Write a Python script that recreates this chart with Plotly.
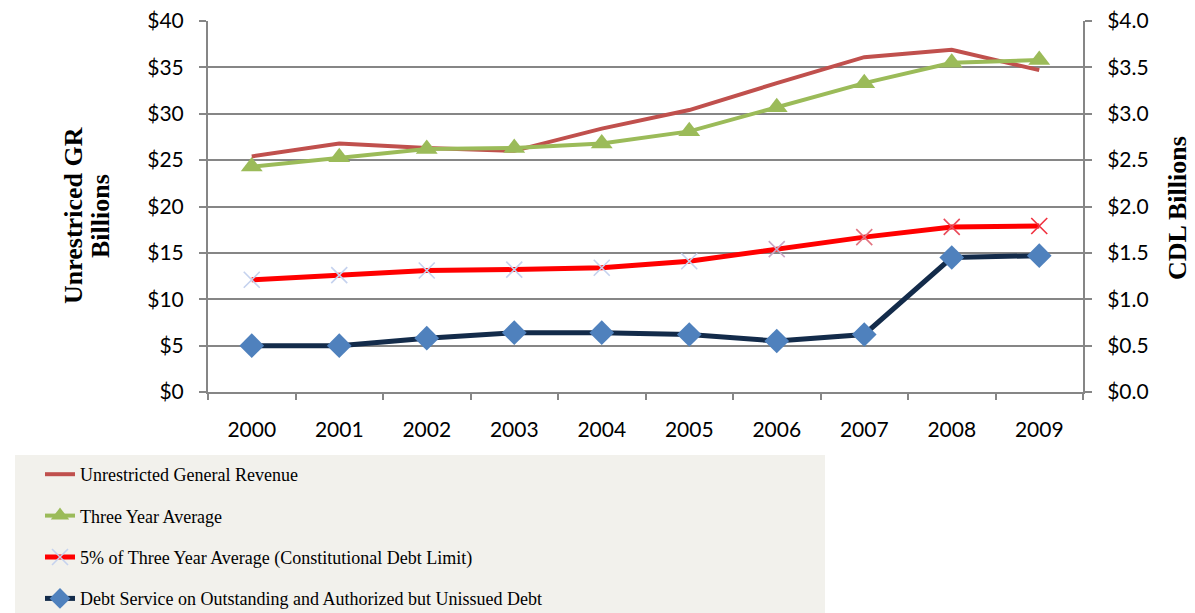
import plotly.graph_objects as go

years = ['2000', '2001', '2002', '2003', '2004', '2005', '2006', '2007', '2008', '2009']

# $ billions, left axis
general_revenue = [25.4, 26.8, 26.3, 26.0, 28.4, 30.4, 33.3, 36.1, 36.9, 34.7]
three_year_avg = [24.3, 25.3, 26.2, 26.3, 26.8, 28.1, 30.7, 33.3, 35.5, 35.8]

# $ billions, right axis
debt_limit = [1.21, 1.26, 1.31, 1.32, 1.34, 1.41, 1.54, 1.67, 1.78, 1.79]
debt_service = [0.50, 0.50, 0.58, 0.64, 0.64, 0.62, 0.55, 0.62, 1.45, 1.47]

limit_marker_colors = ['#c5d2ee', '#c5d2ee', '#c5d2ee', '#c5d2ee', '#c5d2ee',
                       '#c5d2ee', '#c9a7c6', '#e2727f', '#ea4a5a', '#f0303e']

GRID = '#868686'
TICK_FONT = dict(family='Lato', size=21, color='#000000')
SERIF = 'Liberation Serif'

fig = go.Figure()
fig.add_trace(go.Scatter(
    x=years, y=general_revenue, name='Unrestricted General Revenue',
    mode='lines', line=dict(color='#C0504D', width=4), legendgroup='a'))
fig.add_trace(go.Scatter(
    x=years, y=three_year_avg, name='Three Year Average',
    mode='lines+markers', line=dict(color='#9BBB59', width=4),
    marker=dict(symbol='triangle-up', size=19, color='#9BBB59'), legendgroup='b'))
fig.add_trace(go.Scatter(
    x=years, y=debt_limit, name='5% of Three Year Average (Constitutional Debt Limit)',
    yaxis='y2', mode='lines+markers', line=dict(color='#FF0000', width=5),
    marker=dict(symbol='x-thin-open', size=16, color=limit_marker_colors,
                line=dict(width=1.6, color=limit_marker_colors)), legendgroup='c'))
fig.add_trace(go.Scatter(
    x=years, y=debt_service, name='Debt Service on Outstanding and Authorized but Unissued Debt',
    yaxis='y2', mode='lines+markers', line=dict(color='#132B4A', width=5),
    marker=dict(symbol='diamond', size=19, color='#4F81BD'), legendgroup='d'))

# page body margin offsets the figure by 8px, so work in figure coords
OFF = 8
W, H = 1195 - OFF, 613 - OFF
plot_l, plot_r, plot_t, plot_b = 208 - OFF, 1083 - OFF, 21 - OFF, 392 - OFF
pw, ph = plot_r - plot_l, plot_b - plot_t


def px_x(x):
    return (x - OFF - plot_l) / pw


def px_y(y):
    return (plot_b - (y - OFF)) / ph


def side_title(text, x, y, size):
    return dict(text='<b>' + text + '</b>', xref='paper', yref='paper',
                x=px_x(x), y=px_y(y), xanchor='center', yanchor='middle',
                textangle=-90, showarrow=False,
                font=dict(family=SERIF, size=size, color='#000000'))


fig.update_layout(
    width=W, height=H,
    margin=dict(l=plot_l, r=W - plot_r, t=plot_t, b=H - plot_b, autoexpand=False),
    plot_bgcolor='white', paper_bgcolor='white',
    xaxis=dict(type='category', range=[-0.5, 9.5], showgrid=False,
               showline=True, linecolor=GRID, linewidth=2,
               ticks='outside', tickson='boundaries', ticklen=6, tickcolor=GRID, tickwidth=1.5,
               ticklabelstandoff=18, tickfont=TICK_FONT, fixedrange=True),
    yaxis=dict(range=[0, 40], dtick=5, tickprefix='$', showgrid=True, gridcolor=GRID, gridwidth=1.5,
               showline=True, linecolor=GRID, linewidth=2, zeroline=False,
               ticks='outside', ticklen=7, tickcolor=GRID, tickwidth=1.5,
               ticklabelstandoff=11, ticklabeloverflow='allow', tickfont=TICK_FONT),
    yaxis2=dict(range=[0, 4], dtick=0.5, tickformat='$.1f', overlaying='y', side='right',
                showgrid=False, showline=True, linecolor=GRID, linewidth=2, zeroline=False,
                ticks='outside', ticklen=7, tickcolor=GRID, tickwidth=1.5,
                ticklabelstandoff=11, ticklabeloverflow='allow', tickfont=TICK_FONT),
    showlegend=True,
    legend=dict(x=px_x(40), y=px_y(456), xanchor='left', yanchor='top',
                bgcolor='rgba(0,0,0,0)', tracegroupgap=15,
                font=dict(family=SERIF, size=18, color='#000000')),
    shapes=[dict(type='rect', xref='paper', yref='paper',
                 x0=px_x(15), x1=px_x(825), y0=px_y(455), y1=px_y(640),
                 fillcolor='#F2F1EC', line=dict(width=0), layer='below')],
    annotations=[
        side_title('Unrestriced GR', 74, 216, 26),
        side_title('Billions', 101, 216, 26),
        side_title('CDL Billions', 1177, 208, 26),
    ],
)

fig.write_html('out.html')
